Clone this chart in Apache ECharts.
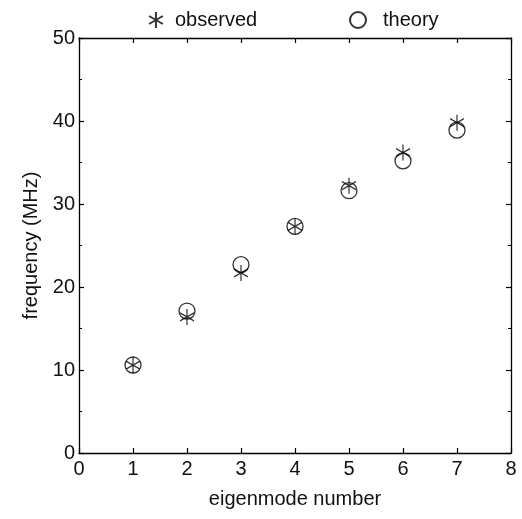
<!DOCTYPE html>
<html>
<head>
<meta charset="utf-8">
<script src="https://cdn.jsdelivr.net/npm/echarts@6/dist/echarts.min.js"></script>
<style>html,body{margin:0;padding:0;background:#fff;}#c{width:522px;height:519px;}</style>
</head>
<body>
<div id="c"></div>
<script>
var modes = [1, 2, 3, 4, 5, 6, 7];
var observed = [10.6, 16.4, 21.7, 27.3, 32.2, 36.2, 39.8];
var theory = [10.6, 17.1, 22.7, 27.3, 31.6, 35.2, 38.9];
var xTicks = [0, 1, 2, 3, 4, 5, 6, 7, 8];

var FONT = 'Liberation Sans, Arial, Helvetica, sans-serif';
var INK = '#111';
var LINE = '#000';
var ASTER = 'path://M8,0L8,16M1.07,4L14.93,12M1.07,12L14.93,4';

function pairs(ys) { return modes.map(function (m, i) { return [m, ys[i]]; }); }

var chart = echarts.init(document.getElementById('c'), null, { renderer: 'canvas' });
var axisLine = { show: true, onZero: false, lineStyle: { color: LINE, width: 1.3 } };
var tick = { show: true, inside: true, length: 5, lineStyle: { color: LINE, width: 1.2 } };
var minor = { show: true, splitNumber: 2, length: 3, lineStyle: { color: LINE, width: 1 } };
chart.setOption({
  animation: false,
  backgroundColor: '#fff',
  textStyle: { fontFamily: FONT },
  grid: { left: 79, right: 11, top: 38, bottom: 66, containLabel: false },
  legend: [
    { data: ['observed'], left: 143, top: 5, itemWidth: 16, itemHeight: 16, itemGap: 0,
      textStyle: { fontSize: 20, color: INK, fontFamily: FONT, padding: [0, 0, 0, 6] } },
    { data: ['theory'], left: 344, top: 5, itemWidth: 16, itemHeight: 16, itemGap: 0,
      textStyle: { fontSize: 20, color: INK, fontFamily: FONT, padding: [0, 0, 0, 12] } }
  ],
  xAxis: [
    { type: 'value', min: 0, max: 8, interval: 1, position: 'bottom',
      name: 'eigenmode number', nameLocation: 'middle', nameGap: 36,
      nameTextStyle: { fontSize: 20, color: INK, fontFamily: FONT },
      axisLine: axisLine, splitLine: { show: false }, axisTick: tick,
      axisLabel: { fontSize: 20, color: INK, margin: 6, fontFamily: FONT,
        formatter: function (v) { return xTicks.indexOf(v) >= 0 ? String(v) : ''; } } },
    { type: 'value', min: 0, max: 8, interval: 1, position: 'top',
      axisLine: axisLine, splitLine: { show: false }, axisTick: tick,
      axisLabel: { show: false } }
  ],
  yAxis: [
    { type: 'value', min: 0, max: 50, interval: 10, position: 'left',
      name: 'frequency (MHz)', nameLocation: 'middle', nameGap: 36, nameRotate: 90,
      nameTextStyle: { fontSize: 20, color: INK, fontFamily: FONT },
      axisLine: axisLine, splitLine: { show: false }, axisTick: tick, minorTick: minor,
      axisLabel: { fontSize: 20, color: INK, margin: 4, fontFamily: FONT } },
    { type: 'value', min: 0, max: 50, interval: 10, position: 'right',
      axisLine: axisLine, splitLine: { show: false }, axisTick: tick, minorTick: minor,
      axisLabel: { show: false } }
  ],
  series: [
    { name: 'theory', type: 'scatter', xAxisIndex: 0, yAxisIndex: 0,
      data: pairs(theory), symbol: 'circle', symbolSize: 16,
      itemStyle: { color: 'rgba(0,0,0,0)', borderColor: LINE, borderWidth: 1.3 } },
    { name: 'observed', type: 'scatter', xAxisIndex: 0, yAxisIndex: 0,
      data: pairs(observed), symbol: ASTER, symbolSize: [14, 16],
      itemStyle: { color: 'rgba(0,0,0,0)', borderColor: LINE, borderWidth: 1.3 } }
  ]
});
</script>
</body>
</html>
